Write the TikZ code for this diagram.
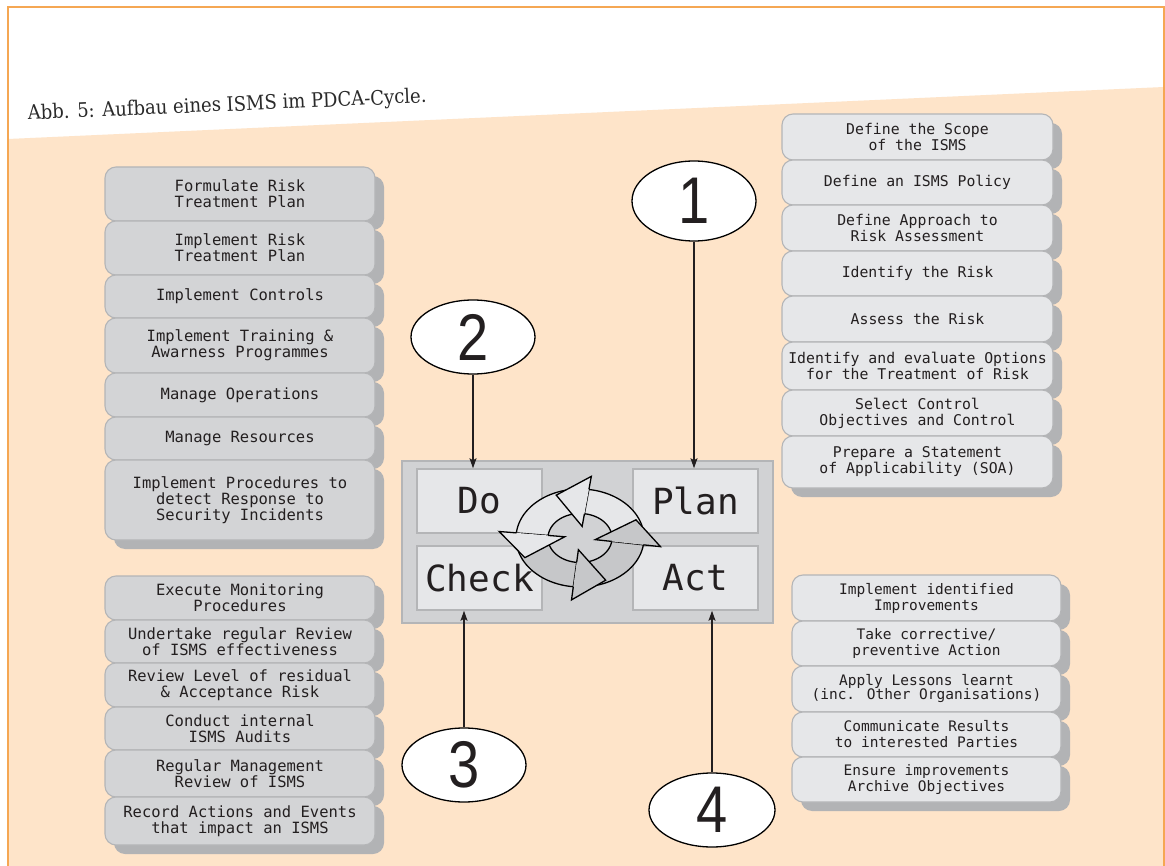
\documentclass[tikz,border=0pt]{standalone}
\usepackage{fontspec}
\usepackage{graphicx}
\usetikzlibrary{shapes.geometric,arrows.meta,shadows}
\newfontfamily\boxfont{DejaVu Sans Mono}
\newfontfamily\capfont{DejaVu Serif}
\newfontfamily\numfont{Liberation Sans}
\definecolor{peach}{HTML}{FEE4C9}
\definecolor{orangeline}{HTML}{F5A753}
\definecolor{darkbox}{HTML}{D3D4D6}
\definecolor{lightbox}{HTML}{E6E7E9}
\definecolor{boxline}{HTML}{B4B5B7}
\definecolor{shadowgray}{HTML}{B2B3B5}
\definecolor{panelgray}{HTML}{D1D2D4}
\definecolor{ringdark}{HTML}{C6C7C9}
\definecolor{txt}{HTML}{231F20}
\definecolor{capcol}{HTML}{2A2A2A}
\tikzset{
  stackbox/.style={rectangle, rounded corners=11pt, draw=boxline, line width=1.1pt,
    general shadow={fill=shadowgray, shadow xshift=9pt, shadow yshift=-9pt},
    align=center, inner sep=1pt, text=txt},
  leftfont/.style={font=\boxfont\fontsize{15.5}{16}\selectfont},
  rightfont/.style={font=\boxfont\fontsize{14.8}{16}\selectfont},
  actfont/.style={font=\boxfont\fontsize{14.5}{16}\selectfont},
  phasebox/.style={rectangle, draw=boxline, line width=1.5pt, fill=lightbox, text=txt,
    font=\boxfont\fontsize{36}{40}\selectfont, inner sep=0pt},
  numell/.style={ellipse, draw=black, line width=1.3pt, fill=white, inner sep=0pt,
    text=txt, font=\numfont\fontsize{66}{66}\selectfont},
  conn/.style={draw=txt, line width=1.3pt, -{Stealth[length=10pt,width=7pt,inset=2pt]}},
  ringline/.style={draw=black, line width=1.3pt, line join=miter}
}
\newcommand\stk[8]{% name, x1, x2, top, bottom, fill, font style, text
  \node[stackbox, fill=#6, #7, minimum width={#3-#2}, minimum height={#5-#4}]
    (#1) at ({(#2+#3)/2},{(#4+#5)/2}) {#8};}
\newcommand\pbox[6]{% name, x1, x2, top, bottom, text
  \node[phasebox, minimum width={#3-#2}, minimum height={#5-#4}]
    (#1) at ({(#2+#3)/2},{(#4+#5)/2}) {#6};}
\newcommand\ringbody[3]{% tail angle, head base angle, fill
  \filldraw[ringline, fill=#3] (#1:1) -- plot[domain=#1:#2, samples=24] (\x:1)
    -- (#2:0.5) -- plot[domain=#2:#1, samples=24] (\x:0.5) -- cycle;}
\newcommand\ringhead[2]{% head base angle, fill
  \fill[#2] (#1:1) -- (#1:1.27) -- ({#1+31}:0.95) -- (#1:0.24) -- (#1:0.5) -- cycle;
  \draw[ringline] (#1:1) -- (#1:1.27) -- ({#1+31}:0.95) -- (#1:0.24) -- (#1:0.5);}
\newcommand\narrow[1]{\scalebox{0.85}[1]{#1}}
\begin{document}
\begin{tikzpicture}[x=1pt, y=-1pt]
\useasboundingbox (0,0) rectangle (1165,866);
% background
\fill[white] (0,0) rectangle (1165,866);
\fill[peach] (8,139) -- (1164,87) -- (1164,866) -- (8,866) -- cycle;
\draw[orangeline, line width=2pt] (8,866) -- (8,7) -- (1164,7) -- (1164,866);
% caption
\node[anchor=base west, rotate=2.5, inner sep=0pt, text=capcol,
  font=\capfont\fontsize{20}{22}\selectfont] (cap) at (28,120)
  {\scalebox{0.9}[1]{Abb. 5: Aufbau eines ISMS im PDCA-Cycle.}};
% Do stack
\stk{d1}{105}{375}{167}{221}{darkbox}{leftfont}{Formulate Risk\\Treatment Plan}
\stk{d2}{105}{375}{221}{275}{darkbox}{leftfont}{Implement Risk\\Treatment Plan}
\stk{d3}{105}{375}{275}{318}{darkbox}{leftfont}{Implement Controls}
\stk{d4}{105}{375}{318}{373}{darkbox}{leftfont}{Implement Training \&\\Awarness Programmes}
\stk{d5}{105}{375}{373}{417}{darkbox}{leftfont}{Manage Operations}
\stk{d6}{105}{375}{417}{460}{darkbox}{leftfont}{Manage Resources}
\stk{d7}{105}{375}{460}{540}{darkbox}{leftfont}{Implement Procedures to\\detect Response to\\Security Incidents}
% Plan stack
\stk{p1}{782}{1053}{114}{160}{lightbox}{rightfont}{Define the Scope\\of the ISMS}
\stk{p2}{782}{1053}{160}{205}{lightbox}{rightfont}{Define an ISMS Policy}
\stk{p3}{782}{1053}{205}{251}{lightbox}{rightfont}{Define Approach to\\Risk Assessment}
\stk{p4}{782}{1053}{251}{296}{lightbox}{rightfont}{Identify the Risk}
\stk{p5}{782}{1053}{296}{342}{lightbox}{rightfont}{Assess the Risk}
\stk{p6}{782}{1053}{342}{390}{lightbox}{rightfont}{Identify and evaluate Options\\for the Treatment of Risk}
\stk{p7}{782}{1053}{390}{436}{lightbox}{rightfont}{Select Control\\Objectives and Control}
\stk{p8}{782}{1053}{436}{488}{lightbox}{rightfont}{Prepare a Statement\\of Applicability (SOA)}
% Check stack
\stk{c1}{105}{375}{576}{620}{darkbox}{leftfont}{Execute Monitoring\\Procedures}
\stk{c2}{105}{375}{620}{663}{darkbox}{leftfont}{Undertake regular Review\\of ISMS effectiveness}
\stk{c3}{105}{375}{663}{707}{darkbox}{leftfont}{Review Level of residual\\\& Acceptance Risk}
\stk{c4}{105}{375}{707}{750}{darkbox}{leftfont}{Conduct internal\\ISMS Audits}
\stk{c5}{105}{375}{750}{797}{darkbox}{leftfont}{Regular Management\\Review of ISMS}
\stk{c6}{105}{375}{797}{845}{darkbox}{leftfont}{Record Actions and Events\\that impact an ISMS}
% Act stack
\stk{a1}{792}{1061}{575}{621}{lightbox}{actfont}{Implement identified\\Improvements}
\stk{a2}{792}{1061}{621}{666}{lightbox}{actfont}{Take corrective/\\preventive Action}
\stk{a3}{792}{1061}{666}{712}{lightbox}{actfont}{Apply Lessons learnt\\[-2pt](inc. Other Organisations)}
\stk{a4}{792}{1061}{712}{757}{lightbox}{actfont}{Communicate Results\\to interested Parties}
\stk{a5}{792}{1061}{757}{802}{lightbox}{actfont}{Ensure improvements\\Archive Objectives}
% central panel
\node[rectangle, draw=boxline, line width=1.5pt, fill=panelgray, minimum width=371pt,
  minimum height=162pt, inner sep=0pt] (panel) at (587.5,542) {};
\pbox{do}{417}{542}{469}{533}{Do}
\pbox{plan}{633}{758}{469}{533}{Plan}
\pbox{chk}{417}{542}{546}{610}{Check}
\pbox{act}{633}{758}{546}{610}{Act}
% cycle arrows
\begin{scope}[shift={(580,538)}, x=64pt, y=49pt]
  \ringbody{-2}{82}{lightbox}
  \ringbody{88}{174}{lightbox}
  \ringbody{180}{264}{ringdark}
  \ringbody{270}{352}{ringdark}
  \ringhead{82}{lightbox}
  \ringhead{174}{lightbox}
  \ringhead{264}{ringdark}
  \ringhead{352}{ringdark}
\end{scope}
% numbered ellipses
\node[numell, minimum width=124pt, minimum height=80pt] (e1) at (694,201) {\narrow{1}};
\node[numell, minimum width=124pt, minimum height=74pt] (e2) at (473,337) {\narrow{2}};
\node[numell, minimum width=124pt, minimum height=74pt] (e3) at (464,765) {\narrow{3}};
\node[numell, minimum width=126pt, minimum height=74pt] (e4) at (712,810) {\narrow{4}};
% connectors
\draw[conn] (e1.south) -- (e1.south |- plan.north);
\draw[conn] (e2.south) -- (e2.south |- do.north);
\draw[conn] (e3.north) -- (e3.north |- chk.south);
\draw[conn] (e4.north) -- (e4.north |- act.south);
\end{tikzpicture}
\end{document}
